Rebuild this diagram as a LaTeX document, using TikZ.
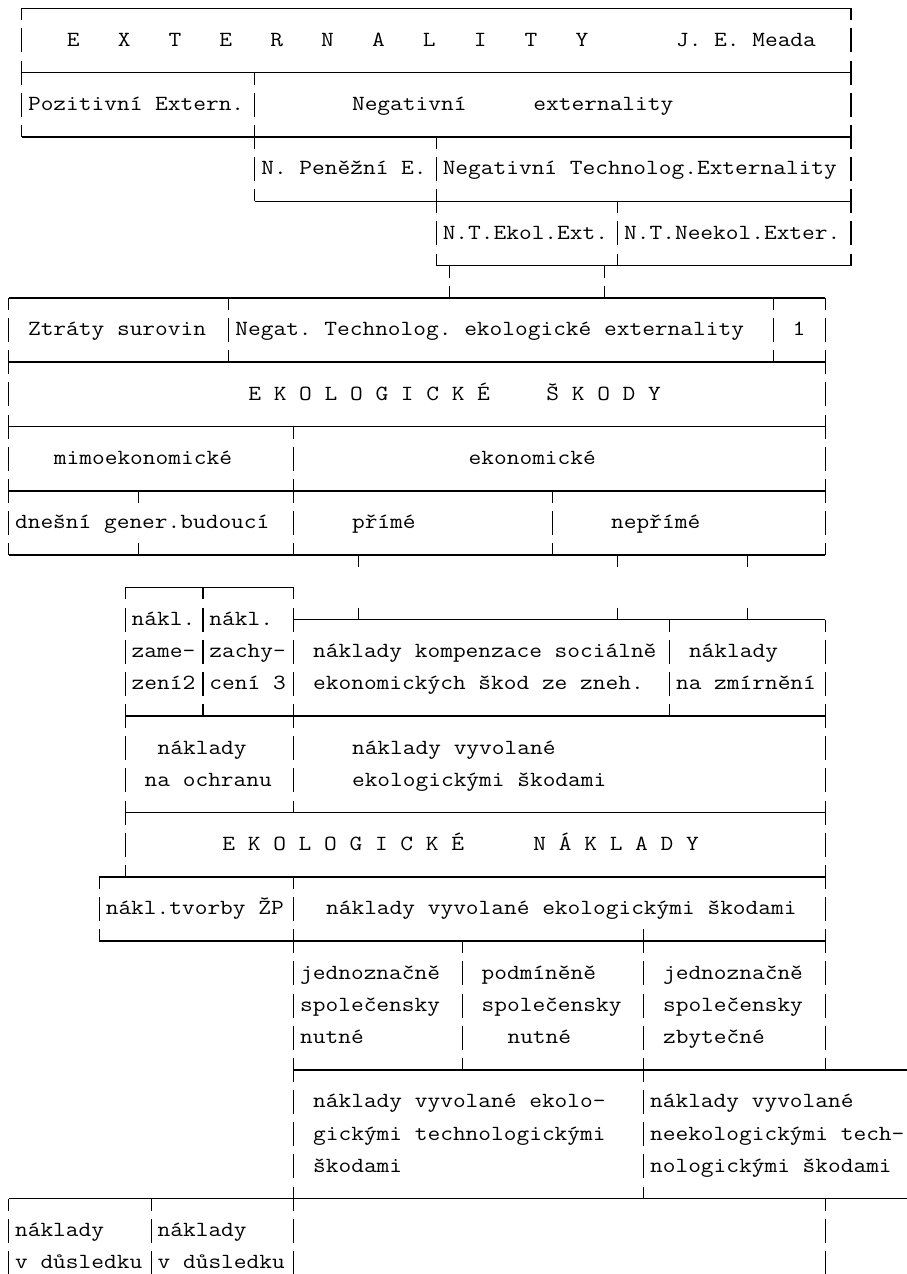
\documentclass[tikz,border=0pt]{standalone}
\usepackage{fontspec}
\usepackage{graphicx}
\tikzset{
  hline/.style={line width=1.6pt, line cap=butt, black},
  vbar/.style={line width=1.1pt, black},
  txt/.style={anchor=base west, inner sep=0pt, outer sep=0pt,
    font=\fontsize{21.6}{26}\selectfont\ttfamily\frenchspacing},
}
\newcommand\hh{0.373}
\newcommand\btx[4]{\node[txt] (#1) at ({#2-0.5},{#3+0.18}) {\scalebox{1.143}[1]{#4}};}
\newcommand\bvf[2]{\foreach \col in {#2} \draw[vbar] (\col,{#1-\hh}) -- (\col,{#1+\hh});}
\newcommand\bvd[2]{\foreach \col in {#2} \draw[vbar] (\col,#1) -- (\col,{#1+\hh});}
\newcommand\bvu[2]{\foreach \col in {#2} \draw[vbar] (\col,{#1-\hh}) -- (\col,#1);}
\newcommand\bhl[3]{\draw[hline] (#2,#1) -- (#3,#1);}
\begin{document}
\begin{tikzpicture}[x=12.96pt, y=-32.17pt]
\fill[white] (-0.6636,-0.258) rectangle (69.244,39.344);
\useasboundingbox (-0.6636,-0.258) rectangle (69.244,39.344);
% row 0
\bhl{0}{1}{65} \bvd{0}{1,65}
% row 1
\bvf{1}{1,65}
\btx{t1}{5}{1}{E~~~X~~~T~~~E~~~R~~~N~~~A~~~L~~~I~~~T~~~Y}
\btx{t2}{52}{1}{J. E. Meada}
% row 2
\bhl{2}{1}{65} \bvf{2}{1,65} \bvd{2}{19}
% row 3
\bvf{3}{1,19,65}
\btx{t3}{2}{3}{Pozitivní Extern.}
\btx{t4}{27}{3}{Negativní}
\btx{t5}{41}{3}{externality}
% row 4
\bhl{4}{1}{65} \bvu{4}{1} \bvf{4}{19,65} \bvd{4}{33}
% row 5
\bvf{5}{19,33,65}
\btx{t6}{20}{5}{N. Peněžní E.}
\btx{t7}{34}{5}{Negativní Technolog.Externality}
% row 6
\bhl{6}{19}{65} \bvu{6}{19} \bvf{6}{33,65} \bvd{6}{47}
% row 7
\bvf{7}{33,47,65}
\btx{t8}{34}{7}{N.T.Ekol.Ext.}
\btx{t9}{48}{7}{N.T.Neekol.Exter.}
% row 8
\bhl{8}{33}{65} \bvu{8}{33,47,65} \bvd{8}{34,46}
% row 9
\bhl{9}{0}{63} \bvd{9}{0,17,59,63} \bvu{9}{34,46}
% row 10
\bvf{10}{0,17,59,63}
\btx{t10}{2}{10}{Ztráty surovin}
\btx{t11}{18}{10}{Negat. Technolog. ekologické externality}
\btx{t12}{61}{10}{1}
% row 11
\bhl{11}{0}{63} \bvf{11}{0,63} \bvu{11}{17,59}
% row 12
\bvf{12}{0,63}
\btx{t13}{19}{12}{E K O L O G I C K É}
\btx{t14}{42}{12}{Š K O D Y}
% row 13
\bhl{13}{0}{63} \bvf{13}{0,63} \bvd{13}{22}
% row 14
\bvf{14}{0,22,63}
\btx{t15}{4}{14}{mimoekonomické}
\btx{t16}{36}{14}{ekonomické}
% row 15
\bhl{15}{0}{63} \bvf{15}{0,22,63} \bvd{15}{10,42}
% row 16
\bvf{16}{0,22,42,63}
\btx{t17}{1}{16}{dnešní gener.budoucí}
\btx{t18}{27}{16}{přímé}
\btx{t19}{47}{16}{nepřímé}
% row 17
\bhl{17}{0}{63} \bvu{17}{0,10,22,42,63} \bvd{17}{27,47,57}
% row 18
\bhl{18}{9}{22} \bvd{18}{9,15,22}
% row 19
\bhl{19}{22}{63} \bvf{19}{9,15,22} \bvu{19}{27,47,57} \bvd{19}{51,63}
\btx{t20}{10}{19}{nákl.}
\btx{t21}{16}{19}{nákl.}
% row 20
\bvf{20}{9,15,22,51,63}
\btx{t22}{10}{20}{zame-}
\btx{t23}{16}{20}{zachy-}
\btx{t24}{24}{20}{náklady kompenzace sociálně}
\btx{t25}{53}{20}{náklady}
% row 21
\bvf{21}{9,15,22,51,63}
\btx{t26}{10}{21}{zení2}
\btx{t27}{16}{21}{cení 3}
\btx{t28}{24}{21}{ekonomických škod ze zneh.}
\btx{t29}{52}{21}{na zmírnění}
% row 22
\bhl{22}{9}{63} \bvf{22}{9,22,63} \bvu{22}{15,51}
% row 23
\bvf{23}{9,22,63}
\btx{t30}{12}{23}{náklady}
\btx{t31}{27}{23}{náklady vyvolané}
% row 24
\bvf{24}{9,22,63}
\btx{t32}{11}{24}{na ochranu}
\btx{t33}{27}{24}{ekologickými škodami}
% row 25
\bhl{25}{9}{63} \bvf{25}{9,63} \bvu{25}{22}
% row 26
\bvf{26}{9,63}
\btx{t34}{17}{26}{E K O L O G I C K É}
\btx{t35}{41}{26}{N Á K L A D Y}
% row 27
\bhl{27}{7}{63} \bvd{27}{7,22} \bvu{27}{9} \bvf{27}{63}
% row 28
\bvf{28}{7,22,63}
\btx{t36}{8}{28}{nákl.tvorby ŽP}
\btx{t37}{25}{28}{náklady vyvolané ekologickými škodami}
% row 29
\bhl{29}{7}{63} \bvu{29}{7} \bvf{29}{22,49,63} \bvd{29}{35}
% rows 30-32
\bvf{30}{22,35,49,63}
\bvf{31}{22,35,49,63}
\bvf{32}{22,35,49,63}
\btx{t38}{23}{30}{jednoznačně}
\btx{t39}{37}{30}{podmíněně}
\btx{t40}{51}{30}{jednoznačně}
\btx{t41}{23}{31}{společensky}
\btx{t42}{37}{31}{společensky}
\btx{t43}{51}{31}{společensky}
\btx{t44}{23}{32}{nutné}
\btx{t45}{39}{32}{nutné}
\btx{t46}{51}{32}{zbytečné}
% row 33
\bhl{33}{22}{69.3} \bvf{33}{22,49} \bvu{33}{35,63}
% rows 34-36
\bvf{34}{22,49}
\bvf{35}{22,49}
\bvf{36}{22,49}
\btx{t47}{24}{34}{náklady vyvolané ekolo-}
\btx{t48}{50}{34}{náklady vyvolané}
\btx{t49}{24}{35}{gickými technologickými}
\btx{t50}{50}{35}{neekologickými tech-}
\btx{t51}{24}{36}{škodami}
\btx{t52}{50}{36}{nologickými škodami}
% row 37
\bhl{37}{0}{69.3} \bvd{37}{0,11,63} \bvf{37}{22} \bvu{37}{49}
% rows 38-39
\bvf{38}{0,11,22,63}
\bvf{39}{0,11,22,63}
\btx{t53}{1}{38}{náklady}
\btx{t54}{12}{38}{náklady}
\btx{t55}{1}{39}{v důsledku}
\btx{t56}{12}{39}{v důsledku}
\end{tikzpicture}
\end{document}
